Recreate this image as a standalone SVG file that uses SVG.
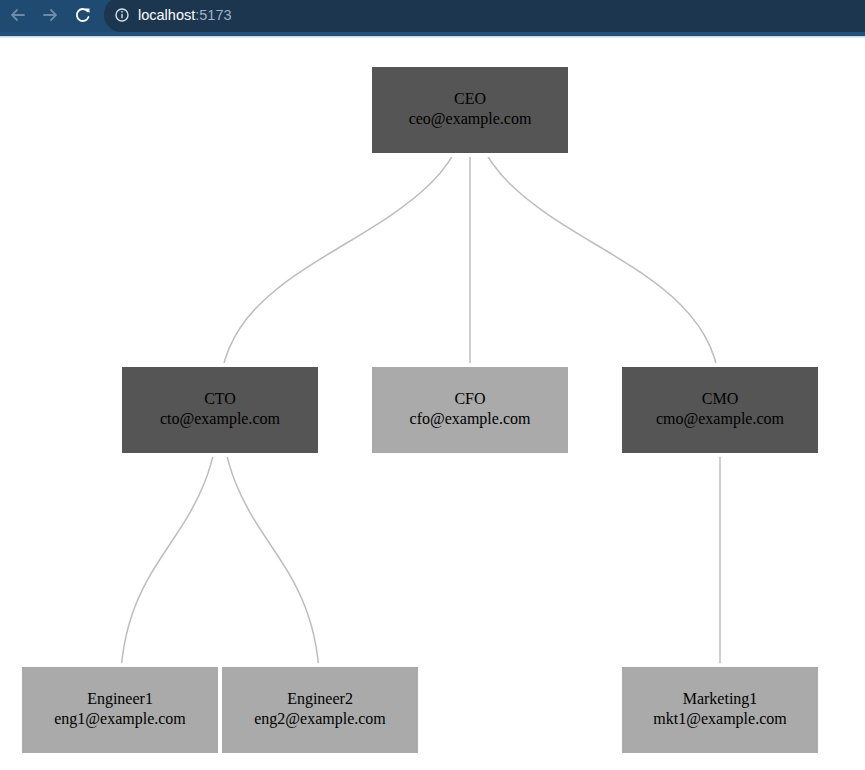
<svg xmlns="http://www.w3.org/2000/svg" width="865" height="770" viewBox="0 0 865 770">
  <style>
    .link { fill: none; stroke: #bdbdbd; stroke-width: 1.5; }
    .box { stroke: #ffffff; stroke-width: 4; }
    .dark { fill: #555555; }
    .light { fill: #aaaaaa; }
    .label { font-family: "Liberation Serif", "Times New Roman", serif; font-size: 16px; fill: #000000; text-anchor: middle; }
    .url { font-family: "Liberation Sans", Arial, sans-serif; font-size: 14.5px; }
    .icon { fill: none; stroke-width: 1.8; stroke-linecap: round; stroke-linejoin: round; }
  </style>
  <rect x="0" y="0" width="865" height="770" fill="#ffffff"/>
  <g id="browser-bar">
    <rect x="0" y="0" width="865" height="36" fill="#1f4a71"/>
    <rect x="0" y="32" width="865" height="4" fill="#234f78"/>
    <rect x="0" y="36" width="865" height="1.5" fill="#c6dbe9"/>
    <rect x="104" y="-3" width="800" height="35" rx="17" fill="#1c3650"/>
    <path class="icon" stroke="#6d8aa8" d="M24,15 H12 M17,10 L12,15 L17,20"/>
    <path class="icon" stroke="#6d8aa8" d="M44,15 H56 M51,10 L56,15 L51,20"/>
    <path class="icon" stroke="#ffffff" d="M87.5,11.2 A6,6 0 1 0 88.5,17"/>
    <path fill="#ffffff" d="M85,8.5 L89.5,8.5 L89.5,13 Z"/>
    <circle cx="122" cy="15" r="6" fill="none" stroke="#d8e0e8" stroke-width="1.4"/>
    <rect x="121.3" y="14" width="1.4" height="4.2" fill="#d8e0e8"/>
    <circle cx="122" cy="11.8" r="0.9" fill="#d8e0e8"/>
    <text class="url" x="138" y="20"><tspan fill="#ffffff">localhost</tspan><tspan fill="#9fb1c4">:5173</tspan></text>
  </g>
  <g id="connectors">
    <path class="link" d="M470,94 C470,244 220,244 220,394"/>
    <path class="link" d="M470,94 C470,244 470,244 470,394"/>
    <path class="link" d="M470,94 C470,244 720,244 720,394"/>
    <path class="link" d="M220,394 C220,544 120,544 120,694"/>
    <path class="link" d="M220,394 C220,544 320,544 320,694"/>
    <path class="link" d="M720,394 C720,544 720,544 720,694"/>
  </g>
  <g id="node-ceo">
    <rect class="box dark" x="370" y="65" width="200" height="90"/>
    <text class="label" x="470" y="104">CEO</text>
    <text class="label" x="470" y="124">ceo@example.com</text>
  </g>
  <g id="node-cto">
    <rect class="box dark" x="120" y="365" width="200" height="90"/>
    <text class="label" x="220" y="404">CTO</text>
    <text class="label" x="220" y="424">cto@example.com</text>
  </g>
  <g id="node-cfo">
    <rect class="box light" x="370" y="365" width="200" height="90"/>
    <text class="label" x="470" y="404">CFO</text>
    <text class="label" x="470" y="424">cfo@example.com</text>
  </g>
  <g id="node-cmo">
    <rect class="box dark" x="620" y="365" width="200" height="90"/>
    <text class="label" x="720" y="404">CMO</text>
    <text class="label" x="720" y="424">cmo@example.com</text>
  </g>
  <g id="node-engineer1">
    <rect class="box light" x="20" y="665" width="200" height="90"/>
    <text class="label" x="120" y="704">Engineer1</text>
    <text class="label" x="120" y="724">eng1@example.com</text>
  </g>
  <g id="node-engineer2">
    <rect class="box light" x="220" y="665" width="200" height="90"/>
    <text class="label" x="320" y="704">Engineer2</text>
    <text class="label" x="320" y="724">eng2@example.com</text>
  </g>
  <g id="node-marketing1">
    <rect class="box light" x="620" y="665" width="200" height="90"/>
    <text class="label" x="720" y="704">Marketing1</text>
    <text class="label" x="720" y="724">mkt1@example.com</text>
  </g>
</svg>
